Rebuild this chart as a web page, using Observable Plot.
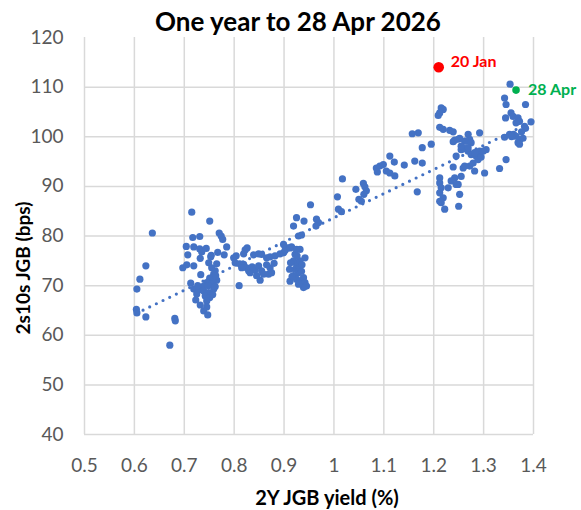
<!DOCTYPE html>
<html><head><meta charset="utf-8">
<script src="https://cdn.jsdelivr.net/npm/d3@7"></script>
<script src="https://cdn.jsdelivr.net/npm/@observablehq/plot@0.6"></script>
<style>
body{margin:0;background:#fff;font-family:Lato,"Noto Sans",sans-serif}
#wrap{position:relative;width:581px;height:510px;overflow:hidden}
#title{position:absolute;left:0;width:596px;top:6px;text-align:center;font-weight:bold;font-size:26px;color:#000;line-height:30px}
#ylab{position:absolute;left:22px;top:268px;transform:translate(-50%,-50%) rotate(-90deg);font-weight:bold;font-size:19px;white-space:nowrap;color:#000}
#xlab{position:absolute;left:327px;top:497px;transform:translate(-50%,-50%);font-weight:bold;font-size:20px;white-space:nowrap;color:#000}
#chart{position:absolute;left:0;top:0}
</style></head>
<body>
<div id="wrap">
<div id="chart"></div>
<div id="title">One year to 28 Apr 2026</div>
<div id="ylab">2s10s JGB (bps)</div>
<div id="xlab">2Y JGB yield (%)</div>
</div>
<script>
const xTicks = [0.5,0.6,0.7,0.8,0.9,1,1.1,1.2,1.3,1.4];
const yTicks = [40,50,60,70,80,90,100,110,120];
const yGrid = [40,50,60,70,80,90,100,110];

// 2Y JGB yield (%)
const yield2y = [
0.605,0.611,0.604,0.605,0.623,0.623,0.636,0.681,0.682,0.671,0.697,
0.715,0.751,0.770,0.774,0.777,0.785,0.717,0.731,0.704,0.719,0.731,0.735,0.744,0.754,0.767,0.780,0.707,0.732,0.749,0.765,0.705,0.719,0.755,0.762,0.759,0.733,0.751,0.759,0.765,0.745,0.755,0.739,0.719,0.729,0.739,0.749,0.759,0.725,0.742,0.751,0.745,0.723,0.732,0.745,0.739,0.747,0.753,0.762,0.757,0.748,0.763,0.727,0.713,
0.804,0.810,0.822,0.826,0.819,0.825,0.829,0.799,0.819,0.839,0.849,0.855,0.865,0.872,0.882,0.892,0.899,0.907,0.915,0.925,0.902,0.802,0.811,0.815,0.832,0.842,0.849,0.855,0.859,0.869,0.875,0.872,0.865,0.852,0.845,0.836,0.880,
0.899,0.912,0.932,0.919,0.925,0.922,0.929,0.919,0.912,0.925,0.932,0.939,0.942,0.942,0.945,0.939,0.931,0.935,0.913,0.911,0.922,0.932,0.929,0.916,0.936,0.926,
0.925,0.919,0.940,0.953,0.965,0.969,0.964,0.929,0.935,
1.007,1.009,1.015,1.017,1.044,1.059,1.062,1.065,1.060,1.050,1.055,1.085,1.092,1.099,1.087,1.105,1.112,1.122,1.112,1.121,1.141,1.162,1.177,1.157,1.169,1.177,1.195,1.167,
1.215,1.219,1.212,1.209,1.212,1.219,1.239,1.232,1.242,1.252,1.262,1.269,1.272,1.292,1.255,1.262,1.269,1.245,1.275,1.285,1.289,1.292,1.305,1.259,1.272,1.282,1.302,1.242,1.255,1.235,1.229,1.249,1.252,1.250,1.222,1.212,1.212,1.215,1.212,1.219,1.215,1.212,1.239,1.262,1.279,1.245,1.239,1.249,1.265,1.275,1.269,1.255,1.282,1.295,1.299,
1.353,1.342,1.345,1.384,1.355,1.359,1.344,1.369,1.372,1.365,1.382,1.395,1.384,1.342,1.352,1.360,1.365,1.373,1.369,1.379,1.372,1.345,1.332,1.356,1.376
];
// 2s10s JGB spread (bps)
const spread = [
69.3,71.3,65.2,64.5,63.7,74.0,80.6,63.4,62.9,58.0,73.6,
84.8,83.0,80.6,80.0,79.3,77.8,79.7,79.9,77.9,77.8,77.4,76.8,77.5,76.1,76.7,76.2,76.2,75.5,74.6,74.4,74.2,74.0,73.6,73.0,72.3,72.2,71.5,70.9,71.1,70.6,70.3,69.9,69.3,69.1,68.9,68.6,69.3,68.3,67.9,67.6,66.9,67.1,66.1,65.7,64.9,64.1,75.8,69.8,68.2,70.0,72.0,70.0,70.5,
76.0,70.0,77.2,77.6,74.3,73.6,73.0,75.6,76.4,76.2,76.4,76.3,75.6,75.8,76.0,76.4,76.6,77.6,77.8,77.3,77.1,74.6,74.4,73.6,72.6,73.2,74.0,73.0,72.3,72.3,72.6,73.6,74.2,71.1,72.0,73.8,74.5,
78.3,77.6,77.3,75.0,74.3,73.3,72.6,72.0,70.9,71.3,70.9,71.6,75.6,70.6,69.9,69.6,73.6,72.9,74.6,73.3,76.3,75.0,70.3,71.8,74.2,76.0,
83.7,82.0,83.0,86.3,83.4,82.7,82.0,80.0,80.2,
87.9,85.4,84.9,91.5,89.4,90.6,89.9,89.1,88.4,87.4,87.0,93.7,94.1,94.4,92.9,93.1,92.7,92.1,96.1,94.9,94.3,95.1,94.7,100.6,100.8,97.8,98.5,88.9,
105.8,105.5,104.8,104.3,101.9,101.5,101.0,101.3,99.3,99.7,99.1,100.5,99.5,100.8,97.4,97.6,97.1,96.1,96.4,96.1,95.4,97.1,97.4,93.7,94.1,93.1,92.7,91.7,92.0,91.1,89.7,90.4,88.4,86.0,85.4,91.7,90.7,89.7,88.7,87.7,86.7,87.0,93.9,94.1,94.7,90.4,99.0,99.5,99.1,98.8,97.8,98.1,96.8,95.9,97.1,
110.6,107.8,106.5,106.5,104.8,104.1,103.8,103.8,103.1,102.8,102.1,103.0,101.7,99.9,100.5,100.5,100.1,99.5,98.8,99.7,98.5,95.4,93.6,100.0,101.0
];

const janLabel = ["20 Jan"], janYield = [1.21], janSpread = [114.0];
const aprLabel = ["28 Apr"], aprYield = [1.365], aprSpread = [109.4];

const data = yield2y.map((x,i)=>({x, y: spread[i]}));
const jan = janLabel.map((t,i)=>({t, x: janYield[i], y: janSpread[i]}));
const apr = aprLabel.map((t,i)=>({t, x: aprYield[i], y: aprSpread[i]}));

const chart = Plot.plot({
  width: 581, height: 510,
  marginLeft: 84, marginRight: 48, marginTop: 37, marginBottom: 76,
  x: {domain: [0.5,1.4]},
  y: {domain: [40,120]},
  style: {fontFamily: "Lato, 'Noto Sans', sans-serif", background: "#fff"},
  marks: [
    Plot.gridX(xTicks, {stroke: "#d9d9d9", strokeOpacity: 1, strokeWidth: 1.5}),
    Plot.gridY(yGrid, {stroke: "#d9d9d9", strokeOpacity: 1, strokeWidth: 1.5}),
    Plot.axisX(xTicks, {tickSize: 0, tickPadding: 24, fontSize: 19, color: "#595959", tickFormat: d => String(d), label: null}),
    Plot.axisY(yTicks, {tickSize: 0, tickPadding: 21, fontSize: 19, color: "#595959", label: null}),
    Plot.linearRegressionY(data, {x: "x", y: "y", ci: 0, stroke: "#4472C4", strokeWidth: 3.2, strokeDasharray: "0,7.4", strokeLinecap: "round"}),
    Plot.dot(data, {x: "x", y: "y", r: 3.6, fill: "#4472C4", stroke: "none"}),
    Plot.dot(jan, {x: "x", y: "y", r: 5.3, fill: "#FF0000", stroke: "none"}),
    Plot.dot(apr, {x: "x", y: "y", r: 3.8, fill: "#00B050", stroke: "none"}),
    Plot.text(jan, {x: "x", y: "y", text: "t", fill: "#FF0000", dx: 12, dy: -5, textAnchor: "start", fontSize: 16, fontWeight: "bold"}),
    Plot.text(apr, {x: "x", y: "y", text: "t", fill: "#00B050", dx: 12, dy: 0, textAnchor: "start", fontSize: 16, fontWeight: "bold"})
  ]
});
document.getElementById("chart").appendChild(chart);
</script>
</body></html>
